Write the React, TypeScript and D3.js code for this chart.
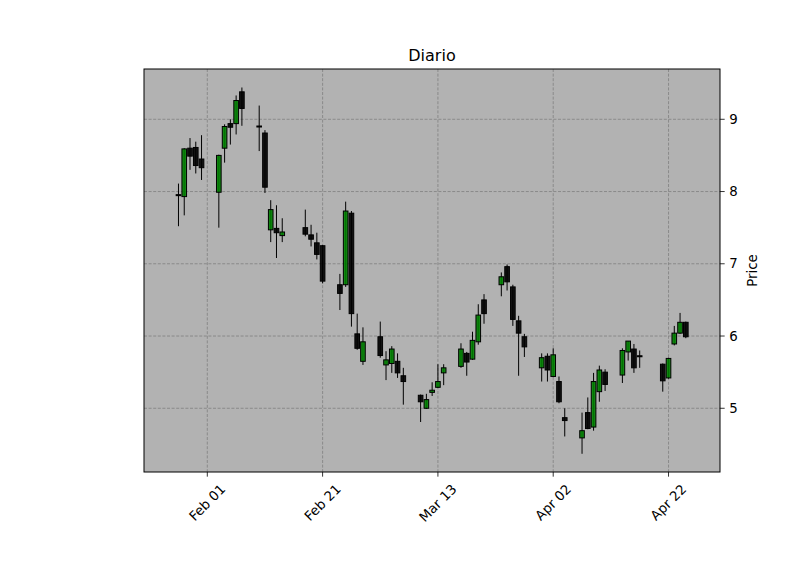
import React from "react";
import * as d3 from "d3";

// Daily OHLC (2025 trading days)
const dates: string[] = [
  "2025-01-27","2025-01-28","2025-01-29","2025-01-30","2025-01-31",
  "2025-02-03","2025-02-04","2025-02-05","2025-02-06","2025-02-07",
  "2025-02-10","2025-02-11","2025-02-12","2025-02-13","2025-02-14",
  "2025-02-18","2025-02-19","2025-02-20","2025-02-21",
  "2025-02-24","2025-02-25","2025-02-26","2025-02-27","2025-02-28",
  "2025-03-03","2025-03-04","2025-03-05","2025-03-06","2025-03-07",
  "2025-03-10","2025-03-11","2025-03-12","2025-03-13","2025-03-14",
  "2025-03-17","2025-03-18","2025-03-19","2025-03-20","2025-03-21",
  "2025-03-24","2025-03-25","2025-03-26","2025-03-27","2025-03-28",
  "2025-03-31","2025-04-01","2025-04-02","2025-04-03","2025-04-04",
  "2025-04-07","2025-04-08","2025-04-09","2025-04-10","2025-04-11",
  "2025-04-14","2025-04-15","2025-04-16","2025-04-17",
  "2025-04-21","2025-04-22","2025-04-23","2025-04-24","2025-04-25",
];
const opens: number[] = [
  7.95, 7.93, 8.60, 8.61, 8.45,
  7.99, 8.60, 8.94, 8.94, 9.38,
  8.90, 8.81, 7.47, 7.49, 7.39,
  7.50, 7.40, 7.29, 7.25,
  6.71, 6.71, 7.70, 6.03, 5.65,
  5.99, 5.60, 5.62, 5.65, 5.45,
  5.18, 5.00, 5.22, 5.29, 5.49,
  5.58, 5.76, 5.68, 5.92, 6.50,
  6.71, 6.96, 6.68, 6.21, 5.99,
  5.56, 5.72, 5.44, 5.37, 4.87,
  4.59, 4.94, 4.74, 5.23, 5.50,
  5.46, 5.78, 5.82, 5.72,
  5.61, 5.42, 5.89, 6.04, 6.19,
];
const highs: number[] = [
  8.11, 8.60, 8.74, 8.69, 8.78,
  8.51, 8.93, 9.00, 9.33, 9.44,
  9.19, 8.85, 7.88, 7.81, 7.63,
  7.75, 7.54, 7.43, 7.26,
  6.86, 7.86, 7.73, 6.31, 6.12,
  6.20, 5.79, 5.86, 5.76, 5.56,
  5.19, 5.20, 5.36, 5.61, 5.61,
  5.90, 5.78, 6.06, 6.44, 6.58,
  6.88, 6.99, 6.71, 6.28, 6.03,
  5.76, 5.76, 5.83, 5.44, 5.00,
  4.94, 5.15, 5.49, 5.59, 5.54,
  5.83, 5.93, 5.89, 5.80,
  5.62, 5.70, 6.14, 6.32, 6.20,
];
const lows: number[] = [
  7.52, 7.67, 8.30, 8.25, 8.16,
  7.50, 8.40, 8.65, 8.79, 8.91,
  8.56, 7.98, 7.30, 7.08, 7.30,
  7.38, 7.24, 7.06, 6.73,
  6.36, 6.68, 6.13, 5.81, 5.60,
  5.70, 5.39, 5.49, 5.42, 5.05,
  4.81, 4.99, 5.17, 5.28, 5.32,
  5.56, 5.45, 5.67, 5.88, 6.17,
  6.55, 6.63, 6.14, 5.45, 5.71,
  5.37, 5.37, 5.43, 5.07, 4.61,
  4.37, 4.71, 4.69, 5.09, 5.24,
  5.35, 5.66, 5.49, 5.56,
  5.23, 5.41, 5.87, 6.03, 5.97,
];
const closes: number[] = [
  7.95, 8.59, 8.49, 8.36, 8.33,
  8.50, 8.90, 8.89, 9.26, 9.15,
  8.90, 8.06, 7.75, 7.43, 7.44,
  7.41, 7.34, 7.13, 6.76,
  6.59, 7.73, 6.31, 5.83, 5.92,
  5.73, 5.67, 5.82, 5.49, 5.37,
  5.09, 5.12, 5.25, 5.37, 5.56,
  5.82, 5.64, 5.94, 6.29, 6.31,
  6.82, 6.75, 6.23, 6.04, 5.85,
  5.70, 5.53, 5.74, 5.09, 4.83,
  4.69, 4.72, 5.37, 5.53, 5.33,
  5.80, 5.93, 5.56, 5.72,
  5.38, 5.69, 6.04, 6.19, 5.99,
];

const xTickDates: string[] = ["2025-02-01", "2025-02-21", "2025-03-13", "2025-04-02", "2025-04-22"];
const yTicks: number[] = [5, 6, 7, 8, 9];
const titleText = "Diario";
const yLabel = "Price";

const DAY = 86400000;
const parse = (s: string) => new Date(s + "T00:00:00Z");

const FONT = "DejaVu Sans, sans-serif";

function measure(text: string, size: number): number {
  try {
    const c = document.createElement("canvas");
    const ctx = c.getContext("2d");
    if (ctx) {
      ctx.font = `${size}px "DejaVu Sans"`;
      return ctx.measureText(text).width;
    }
  } catch (e) {}
  return text.length * size * 0.6;
}

export default function App() {
  const W = 800, H = 575;
  const L = 144, R = 720, T = 69, B = 472;
  const feb1 = parse("2025-02-01").getTime();
  const x = d3.scaleUtc()
    .domain([new Date(feb1 - 10.98 * DAY), new Date(feb1 + 88.93 * DAY)])
    .range([L, R]);
  const y = d3.scaleLinear().domain([4.118, 9.696]).range([B, T]);
  const bw = x(new Date(feb1 + 0.8 * DAY)) - x(new Date(feb1));
  const fmt = d3.utcFormat("%b %d");

  const candles = dates.map((d, i) => ({
    date: parse(d), o: opens[i], h: highs[i], l: lows[i], c: closes[i],
  }));

  return (
    <svg width={W} height={H} style={{ position: "absolute", left: 0, top: 0, background: "#fff" }}
      fontFamily={FONT}>
      <rect x={0} y={0} width={W} height={H} fill="#fff" />
      <rect x={L} y={T} width={R - L} height={B - T} fill="#b2b2b2" />
      {/* grid */}
      {xTickDates.map((s) => {
        const xx = x(parse(s));
        return <line key={"gx" + s} x1={xx} x2={xx} y1={T} y2={B} stroke="#808080" strokeWidth={0.8} strokeDasharray="3,1.6" />;
      })}
      {yTicks.map((v) => (
        <line key={"gy" + v} x1={L} x2={R} y1={y(v)} y2={y(v)} stroke="#808080" strokeWidth={0.8} strokeDasharray="3,1.6" />
      ))}
      {/* wicks */}
      {candles.map((k, i) => (
        <line key={"w" + i} x1={x(k.date)} x2={x(k.date)} y1={y(k.h)} y2={y(k.l)} stroke="#000" strokeWidth={1} />
      ))}
      {/* bodies */}
      {candles.map((k, i) => {
        const up = k.c > k.o;
        const top = y(Math.max(k.o, k.c));
        const h = Math.abs(y(k.o) - y(k.c));
        return (
          <rect key={"b" + i} x={x(k.date) - bw / 2} y={top - (h < 1 ? 0.5 : 0)} width={bw} height={Math.max(h, 1)}
            fill={up ? "#008000" : "#000000"} fillOpacity={0.9} stroke="#000" strokeWidth={1} />
        );
      })}
      {/* frame */}
      <rect x={L} y={T} width={R - L} height={B - T} fill="none" stroke="#000" strokeWidth={1} />
      {/* x ticks */}
      {xTickDates.map((s) => {
        const xx = x(parse(s));
        const label = fmt(parse(s));
        const w = measure(label, 13.33);
        const hh = 15.5;
        const half = ((w + hh) * Math.SQRT1_2) / 2;
        return (
          <g key={"xt" + s}>
            <line x1={xx} x2={xx} y1={B} y2={B + 4.67} stroke="#000" strokeWidth={0.8} />
            <text transform={`translate(${xx},${B + 9.3 + half}) rotate(-45)`} textAnchor="middle"
              dominantBaseline="central" fontSize={13.33} fill="#000">{label}</text>
          </g>
        );
      })}
      {/* y ticks (right) */}
      {yTicks.map((v) => (
        <g key={"yt" + v}>
          <line x1={R} x2={R + 4.67} y1={y(v)} y2={y(v)} stroke="#000" strokeWidth={0.8} />
          <text x={R + 9.3} y={y(v)} dominantBaseline="central" fontSize={13.33} fill="#000">{v}</text>
        </g>
      ))}
      <text transform={`translate(756.5,${(T + B) / 2}) rotate(-90)`} textAnchor="middle" fontSize={13.33} fill="#000">{yLabel}</text>
      <text x={(L + R) / 2} y={61} textAnchor="middle" fontSize={16} fill="#000">{titleText}</text>
    </svg>
  );
}
